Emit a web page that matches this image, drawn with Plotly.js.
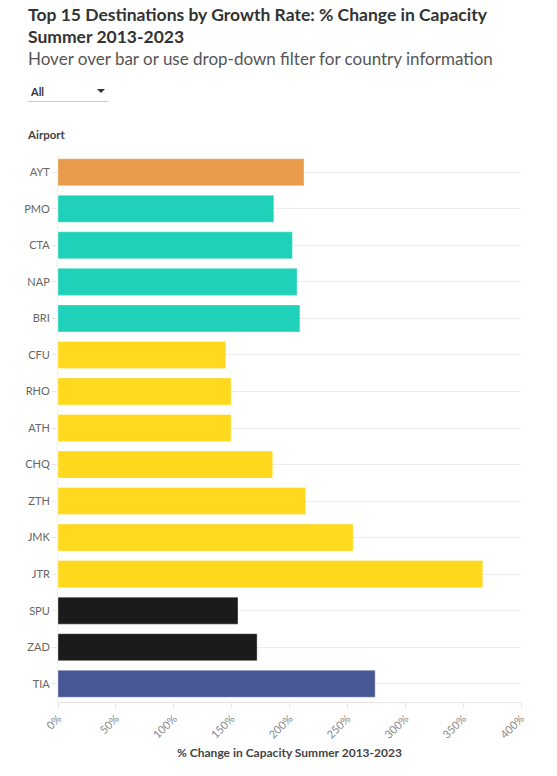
<!DOCTYPE html>
<html>
<head>
<meta charset="utf-8">
<script src="https://cdn.plot.ly/plotly-3.0.1.min.js"></script>
<style>
  body { margin: 0; background: #fff; font-family: "Source Sans Pro", Lato, sans-serif; }
  #wrap { position: relative; width: 557px; height: 776px; overflow: hidden; }
  #chart { position: absolute; left: 0; top: 0; width: 557px; height: 776px; }
  .hdr { position: absolute; left: 28px; color: #333; white-space: nowrap; }
  #title { top: 4px; font-size: 17.5px; font-weight: bold; line-height: 22px; }
  #subtitle { top: 48px; font-size: 17px; color: #555; }
  #filter { position: absolute; left: 28px; top: 82px; width: 80px; height: 19px;
            border-bottom: 1px solid #ccc; font-size: 11px; font-weight: bold; color: #333; }
  #filter select { appearance: none; -webkit-appearance: none; border: none; background: transparent;
                   font: inherit; color: inherit; width: 100%; height: 100%; padding: 0 0 0 3px; outline: none; }
  #filter .arrow { position: absolute; right: 3px; top: 7px; width: 0; height: 0; pointer-events: none;
                   border-left: 4px solid transparent; border-right: 4px solid transparent; border-top: 4px solid #333; }
  #airportLbl { position: absolute; left: 28px; top: 128px; font-size: 11.5px; font-weight: bold; color: #444; }
</style>
</head>
<body>
<div id="wrap">
  <div id="chart"></div>
  <div id="title" class="hdr">Top 15 Destinations by Growth Rate: % Change in Capacity<br>Summer 2013-2023</div>
  <div id="subtitle" class="hdr">Hover over bar or use drop-down filter for country information</div>
  <div id="filter">
    <select id="country">
      <option>All</option>
      <option>Turkey</option>
      <option>Italy</option>
      <option>Greece</option>
      <option>Croatia</option>
      <option>Albania</option>
    </select>
    <span class="arrow"></span>
  </div>
  <div id="airportLbl">Airport</div>
</div>
<script>
'use strict';

const airports = ['AYT', 'PMO', 'CTA', 'NAP', 'BRI', 'CFU', 'RHO', 'ATH', 'CHQ', 'ZTH', 'JMK', 'JTR', 'SPU', 'ZAD', 'TIA'];
const growth = [212.5, 186.5, 202.5, 206.5, 209, 145, 149.5, 149.5, 185.5, 214, 255, 367, 155.5, 172, 274];
const countries = ['Turkey', 'Italy', 'Italy', 'Italy', 'Italy', 'Greece', 'Greece', 'Greece', 'Greece', 'Greece', 'Greece', 'Greece', 'Croatia', 'Croatia', 'Albania'];
const xTicks = [0, 50, 100, 150, 200, 250, 300, 350, 400];

const countryColors = {
    Turkey: '#e89c4b',
    Italy: '#1fd1b9',
    Greece: '#ffd91d',
    Croatia: '#1b1b1b',
    Albania: '#485795'
};

function drawChart(filter) {
    let ys = [], xs = [], cols = [], texts = [];
    for (let i = 0; i < airports.length; i++) {
        if (filter !== 'All' && countries[i] !== filter) continue;
        ys.push(airports[i]);
        xs.push(growth[i]);
        cols.push(countryColors[countries[i]]);
        texts.push(countries[i]);
    }

    const trace = {
        type: 'bar',
        orientation: 'h',
        y: ys,
        x: xs,
        text: texts,
        textposition: 'none',
        hovertemplate: '%{y} (%{text})<br>%{x:.1f}%<extra></extra>',
        marker: { color: cols, line: { color: 'rgba(255,255,255,0.35)', width: 1 } }
    };

    const layout = {
        width: 557,
        height: 776,
        margin: { l: 58, r: 36, t: 154, b: 74 },
        paper_bgcolor: '#fff',
        plot_bgcolor: '#fff',
        font: { family: '"Source Sans Pro", Lato, sans-serif', color: '#666', size: 11 },
        bargap: 0.26,
        showlegend: false,
        xaxis: {
            range: [0, 400],
            tickvals: xTicks,
            ticktext: xTicks.map(v => v + '%'),
            tickangle: -45,
            ticks: 'outside',
            ticklen: 5,
            tickcolor: '#e6e6e6',
            tickfont: { size: 11, color: '#888' },
            showgrid: false,
            zeroline: false,
            showline: true,
            linecolor: '#e6e6e6',
            fixedrange: true,
            title: { text: '<b>% Change in Capacity Summer 2013-2023</b>', font: { size: 12, color: '#444' }, standoff: 8 }
        },
        yaxis: {
            type: 'category',
            categoryorder: 'array',
            categoryarray: ys,
            autorange: 'reversed',
            ticks: 'outside',
            ticklen: 5,
            tickcolor: '#e6e6e6',
            tickfont: { size: 11, color: '#666' },
            showgrid: true,
            gridcolor: '#ececec',
            showline: true,
            linecolor: '#f0f0f0',
            zeroline: false,
            fixedrange: true
        }
    };

    Plotly.react('chart', [trace], layout, { displayModeBar: false });
}

document.getElementById('country').addEventListener('change', e => drawChart(e.target.value));
drawChart('All');
</script>
</body>
</html>
